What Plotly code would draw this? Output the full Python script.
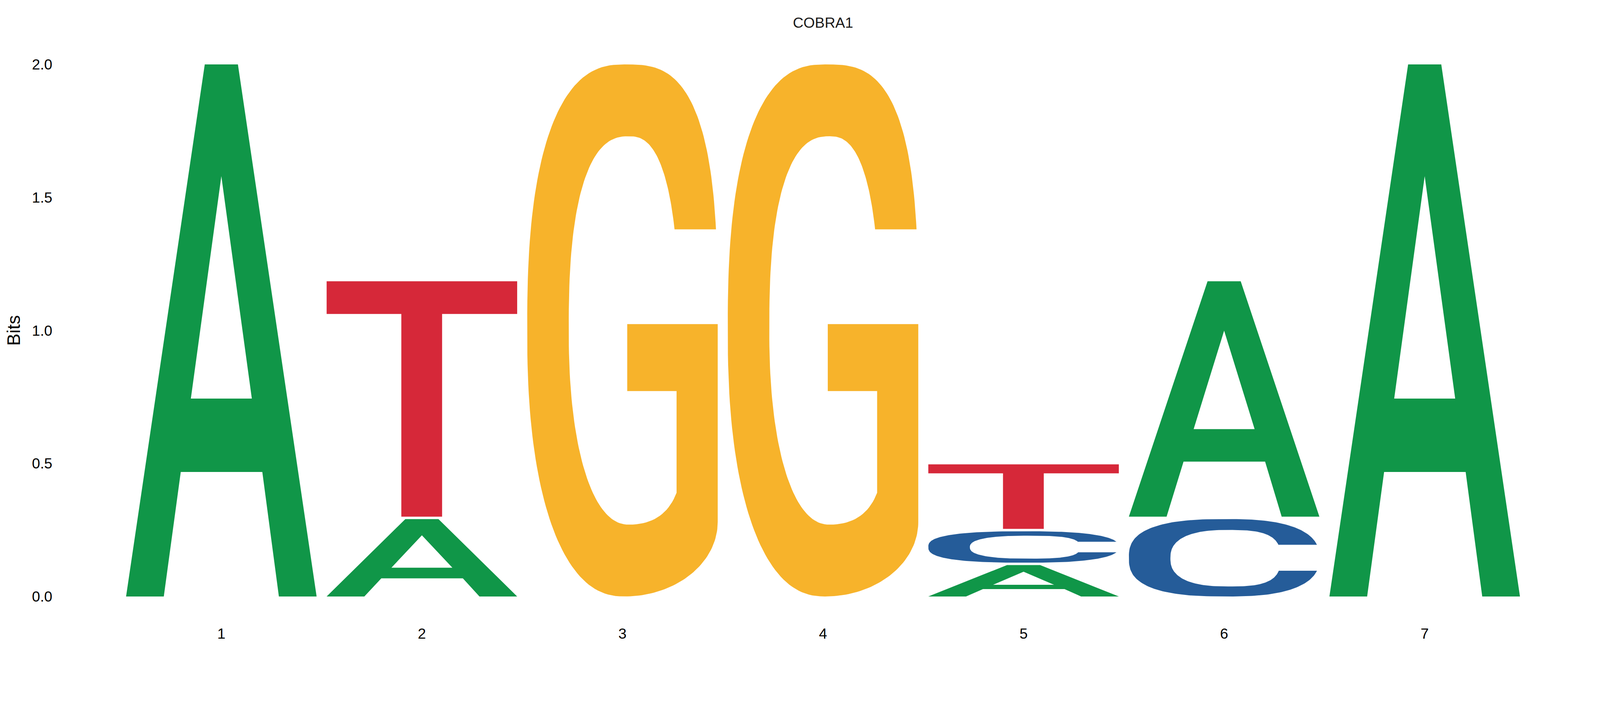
import numpy as np
import plotly.graph_objects as go

title = "COBRA1"
positions = [1, 2, 3, 4, 5, 6, 7]
# drawn letter heights in bits, per position
bits_A = [2.0, 0.291, 0.0, 0.0, 0.118, 0.885, 2.0]
bits_C = [0.0, 0.0, 0.0, 0.0, 0.118, 0.291, 0.0]
bits_G = [0.0, 0.0, 2.0, 2.0, 0.0, 0.0, 0.0]
bits_T = [0.0, 0.885, 0.0, 0.0, 0.2425, 0.0, 0.0]
y_ticks = [0.0, 0.5, 1.0, 1.5, 2.0]

colors = {"A": "#109648", "C": "#255C99", "G": "#F7B32B", "T": "#D62839"}
letter_width = 0.95
gap = 0.009


def arc(cx, cy, rx, ry, n, t0, t1, k=50):
    t = np.linspace(t0, t1, k)
    c, s = np.cos(t), np.sin(t)
    x = cx + rx * np.sign(c) * np.abs(c) ** (2 / n)
    y = cy + ry * np.sign(s) * np.abs(s) ** (2 / n)
    return list(zip(x, y))


def bezier(p0, p1, p2, k=20):
    t = np.linspace(0, 1, k)
    x = (1 - t) ** 2 * p0[0] + 2 * (1 - t) * t * p1[0] + t ** 2 * p2[0]
    y = (1 - t) ** 2 * p0[1] + 2 * (1 - t) * t * p1[1] + t ** 2 * p2[1]
    return list(zip(x, y))


def t_at(y, cy, ry, n):
    return np.arcsin(min(1.0, abs(y - cy) / ry) ** (n / 2))


# glyph outlines in a unit box, holes wound the other way
def glyph_A():
    outer = [(0, 0), (0.198, 0), (0.287, 0.234), (0.715, 0.234), (0.802, 0),
             (1, 0), (0.587, 1), (0.413, 1)]
    hole = [(0.34, 0.372), (0.5, 0.79), (0.66, 0.372)]
    return [outer, hole]


def glyph_T():
    return [[(0, 1), (0, 0.861), (0.392, 0.861), (0.392, 0), (0.606, 0),
             (0.606, 0.861), (1, 0.861), (1, 1)]]


def glyph_C():
    pi = np.pi
    ta = t_at(0.668, 0.5, 0.5, 2.5)
    pts = []
    pts += arc(0.52, 0.5, 0.48, 0.5, 2.5, ta, pi / 2)
    pts += arc(0.52, 0.5, 0.52, 0.5, 2.7, pi / 2, pi)
    pts += arc(0.52, 0.5, 0.52, 0.5, 2.7, pi, 1.5 * pi)
    pts += arc(0.52, 0.5, 0.48, 0.5, 2.5, 1.5 * pi, 2 * pi - ta)
    tc = t_at(0.332, 0.494, 0.365, 3)
    td = t_at(0.668, 0.494, 0.365, 3)
    pts += arc(0.52, 0.494, 0.275, 0.365, 3, 2 * pi - tc, 1.5 * pi)
    pts += arc(0.52, 0.494, 0.302, 0.365, 2.5, 1.5 * pi, pi)
    pts += arc(0.52, 0.494, 0.302, 0.365, 2.5, pi, pi / 2)
    pts += arc(0.52, 0.494, 0.275, 0.365, 3, pi / 2, td)
    return [pts]


def glyph_G():
    pi = np.pi
    pts = [(0.788, 0.69)]
    ta = t_at(0.69, 0.5, 0.5, 3)
    pts += arc(0.51, 0.5, 0.49, 0.5, 3, ta, pi / 2)
    pts += arc(0.51, 0.5, 0.51, 0.5, 2.5, pi / 2, pi)
    pts += arc(0.51, 0.5, 0.51, 0.5, 2.3, pi, 1.5 * pi)
    pts += arc(0.51, 0.14, 0.49, 0.14, 2, 1.5 * pi, 2 * pi)
    pts += [(1.0, 0.512), (0.525, 0.512), (0.525, 0.386), (0.784, 0.386)]
    pts += bezier((0.784, 0.195), (0.72, 0.135), (0.535, 0.135))
    pts += arc(0.535, 0.5, 0.317, 0.365, 2.2, 1.5 * pi, pi)
    pts += arc(0.535, 0.5, 0.317, 0.365, 2.5, pi, pi / 2)
    tb = t_at(0.69, 0.5, 0.365, 2.5)
    pts += arc(0.535, 0.5, 0.26, 0.365, 2.5, pi / 2, tb)
    return [pts]


glyphs = {"A": glyph_A(), "C": glyph_C(), "G": glyph_G(), "T": glyph_T()}
bits = {"A": bits_A, "C": bits_C, "G": bits_G, "T": bits_T}

fig = go.Figure()
for i, pos in enumerate(positions):
    stack = sorted([(bits[L][i], L) for L in "ACGT" if bits[L][i] > 0], key=lambda s: s[0])
    y0 = 0.0
    for h, L in stack:
        xs, ys = [], []
        for contour in glyphs[L]:
            for u, v in contour:
                xs.append(pos - letter_width / 2 + letter_width * u)
                ys.append(y0 + h * v)
            xs.append(xs[-len(contour)])
            ys.append(ys[-len(contour)])
            xs.append(None)
            ys.append(None)
        fig.add_trace(go.Scatter(x=xs, y=ys, mode="lines", fill="toself",
                                 fillcolor=colors[L], line=dict(width=0, color=colors[L]),
                                 hoverinfo="skip", showlegend=False))
        y0 += h + gap

font = "Arial, Liberation Sans, sans-serif"
fig.update_layout(
    width=4080, height=1700,
    paper_bgcolor="white", plot_bgcolor="white",
    margin=dict(l=127, r=9, t=122.6, b=146.4),
    title=dict(text=title, x=0.5, xref="paper", y=1 - 49.4 / 1700, yref="container",
               yanchor="middle", font=dict(family=font, size=37.6, color="#1a1a1a")),
    font=dict(family=font, size=37.6, color="black"),
)
fig.update_xaxes(range=[0.1593, 7.841], tickvals=positions, ticktext=[str(p) for p in positions],
                 showgrid=False, zeroline=False, showline=False, ticks="",
                 ticklabelstandoff=35, tickfont=dict(size=37.6))
fig.update_yaxes(range=[-0.05, 2.05], tickvals=y_ticks, tickformat=".1f",
                 showgrid=False, zeroline=False, showline=False, ticks="",
                 tickfont=dict(size=37.6),
                 title=dict(text="Bits", font=dict(size=47), standoff=15))

fig.write_html("out.html")
